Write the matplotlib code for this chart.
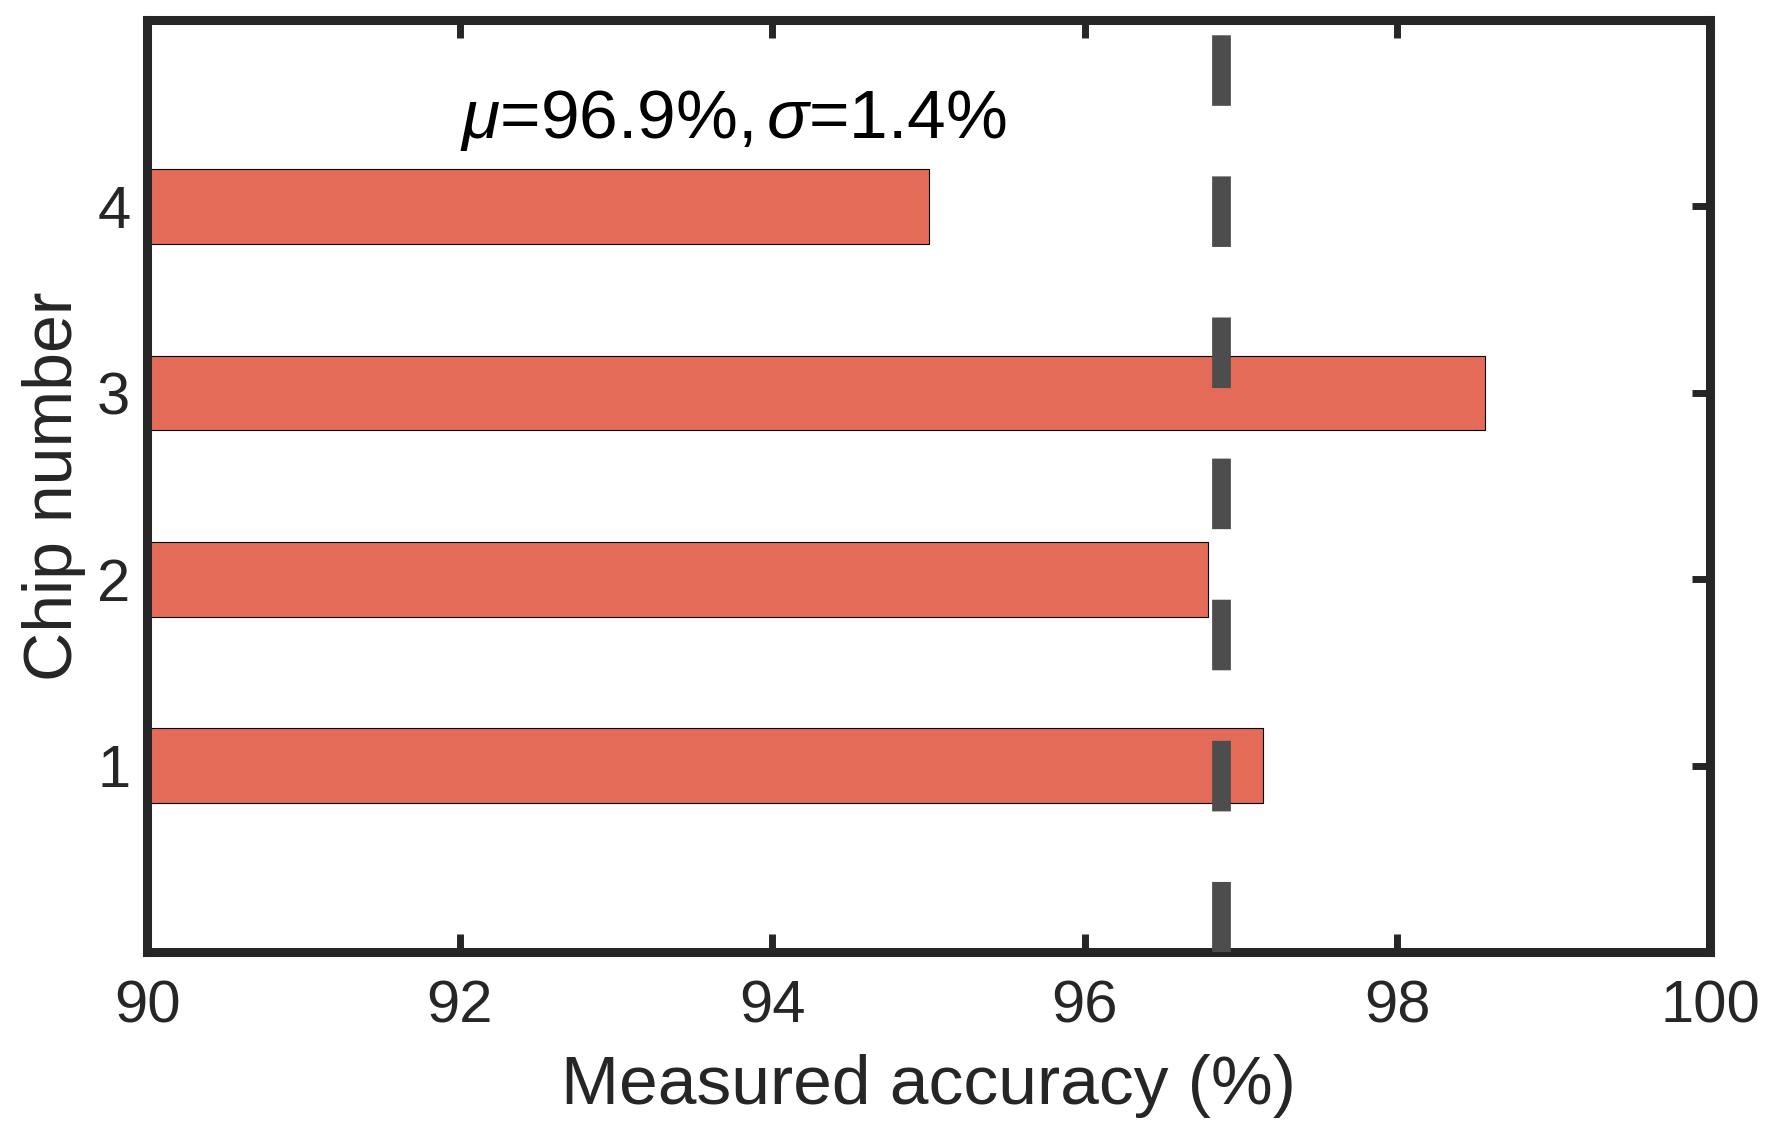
import matplotlib
matplotlib.use("Agg")
import matplotlib.pyplot as plt
import numpy as np

# data
chips = [1, 2, 3, 4]
accuracy = [97.14, 96.79, 98.56, 95.0]
mean_acc = 96.87
xticks = [90, 92, 94, 96, 98, 100]

plt.rcParams['font.family'] = ['Liberation Sans', 'DejaVu Sans']
plt.rcParams['mathtext.fontset'] = 'custom'
plt.rcParams['mathtext.it'] = 'Liberation Sans:italic'
plt.rcParams['mathtext.rm'] = 'Liberation Sans'
plt.rcParams['lines.scale_dashes'] = False

dark = '#262626'

fig = plt.figure(figsize=(17.72, 11.45), dpi=100)
ax = fig.add_axes([0.083, 0.1685, 0.882, 0.814])

ax.barh(chips, np.array(accuracy) - 90, left=90, height=0.4,
        color='#E46B57', edgecolor='black', linewidth=0.8, zorder=2)

# mean line
ax.plot([mean_acc, mean_acc], [0, 5], color='#4d4d4d', linewidth=13.5,
        dashes=(50.8, 50.8), dash_capstyle='butt', zorder=3, clip_on=True)

ax.text(92, 4.46, r'$\mu$=96.9%,$\,\sigma$=1.4%', fontsize=50,
        va='center', ha='left', color='black')

ax.set_xlim(90, 100)
ax.set_ylim(0, 5)
ax.set_xticks(xticks)
ax.set_yticks(chips)

for s in ax.spines.values():
    s.set_linewidth(6.5)
    s.set_color(dark)

ax.tick_params(direction='in', length=13, width=5, color=dark,
               labelcolor=dark, labelsize=43, top=True, right=True)
ax.tick_params(axis='x', pad=20)
ax.tick_params(axis='y', pad=12)

ax.set_xlabel('Measured accuracy (%)', fontsize=50, color=dark, labelpad=14)
ax.set_ylabel('Chip number', fontsize=49, color=dark, labelpad=8)

fig.savefig('out.png', dpi=100)
